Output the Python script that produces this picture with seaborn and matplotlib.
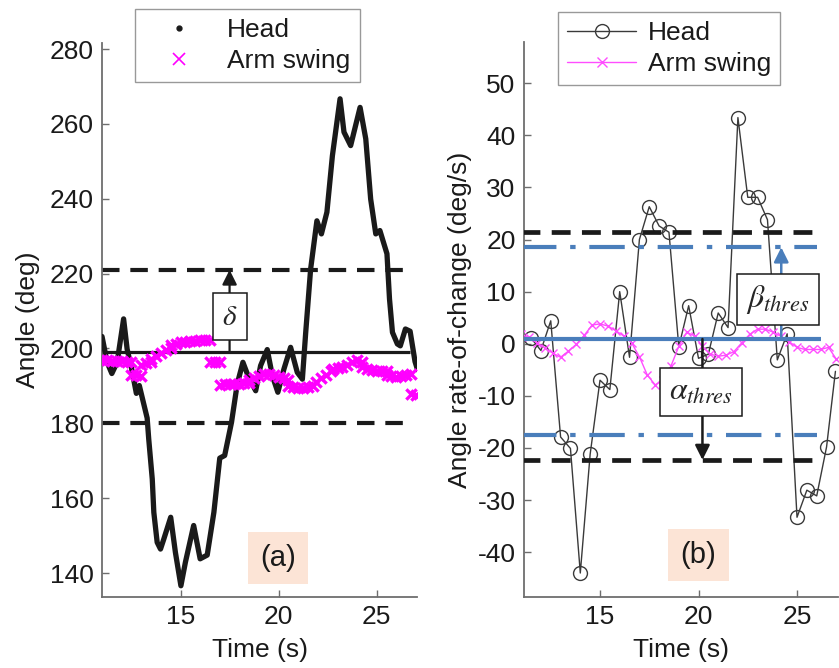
import matplotlib
matplotlib.use("Agg")
import matplotlib.pyplot as plt
import seaborn as sns
import pandas as pd
from matplotlib.lines import Line2D

# ---------------- data: panel (a) ----------------
head_time = [11.0, 11.26, 11.5, 11.77, 12.1, 12.28, 12.5, 12.75, 12.9, 13.3, 13.38, 13.56, 13.64,
             13.81, 13.98, 14.15, 14.5, 14.74, 15.02, 15.25, 15.67, 16.0, 16.36, 16.7, 17.0,
             17.25, 17.6, 17.89, 18.18, 18.44, 18.83, 19.08, 19.42, 19.68, 19.96, 20.27, 20.61,
             20.95, 21.21, 21.38, 21.63, 21.95, 22.18, 22.46, 22.74, 23.13, 23.33, 23.67, 24.15,
             24.44, 24.69, 24.95, 25.16, 25.52, 25.65, 25.8, 26.05, 26.2, 26.46, 26.7, 26.95, 27.08]
head_angle = [203.2, 196.3, 193.3, 196.3, 207.9, 199.8, 194.8, 188.0, 190.1, 181.4, 175.8, 165.1,
              156.2, 148.2, 146.4, 149.1, 154.9, 145.5, 136.6, 142.9, 152.7, 143.8, 144.8, 156.2,
              170.7, 171.4, 180.3, 190.5, 196.3, 192.7, 188.7, 195.4, 199.7, 192.7, 188.3, 194.5,
              200.3, 193.6, 191.8, 204.3, 221.2, 234.1, 230.6, 236.4, 251.5, 266.7, 257.8, 254.2,
              264.4, 256.0, 239.9, 230.6, 231.5, 225.3, 213.2, 204.3, 201.2, 200.7, 205.2, 204.6,
              196.5, 194.3]

arm_time = [11.0, 11.25, 11.5, 11.75, 12.0, 12.25, 12.5,
            12.5, 12.75, 13.0,
            13.0, 13.25, 13.5,
            13.5, 13.75, 14.0, 14.25, 14.5,
            14.5, 14.75, 15.0, 15.25, 15.5, 15.75, 16.0, 16.25, 16.5,
            16.5, 16.75, 17.0,
            17.0, 17.25, 17.5, 17.75, 18.0, 18.25, 18.5,
            18.5, 18.75, 19.0, 19.25, 19.5, 19.75, 20.0, 20.25, 20.5,
            20.5, 20.75, 21.0, 21.25, 21.5, 21.75,
            21.9, 22.15, 22.4, 22.65,
            22.75, 23.0, 23.25, 23.5, 23.75, 24.0, 24.25,
            24.25, 24.5, 24.75, 25.0, 25.25, 25.5,
            25.5, 25.75, 26.0, 26.25, 26.5, 26.75,
            26.75, 27.0]
arm_angle = [196.8, 196.8, 196.7, 196.6, 196.6, 196.5, 196.4,
             193.0, 192.8, 192.6,
             195.5, 196.0, 196.5,
             197.3, 198.0, 198.8, 199.5, 200.0,
             200.8, 201.3, 201.6, 201.8, 202.0, 202.1, 202.2, 202.3, 202.3,
             196.3, 196.3, 196.3,
             190.3, 190.4, 190.5, 190.6, 190.6, 190.7, 190.8,
             191.5, 192.0, 192.7, 193.2, 193.3, 193.0, 192.5, 192.0, 191.6,
             190.0, 189.7, 189.5, 189.4, 189.6, 190.0,
             191.0, 192.0, 193.0, 194.0,
             194.5, 194.8, 195.0, 195.5, 196.3, 196.8, 196.5,
             195.0, 194.5, 194.2, 194.0, 194.0, 194.0,
             193.0, 192.6, 192.4, 192.7, 193.0, 193.2,
             187.8, 187.6]

mean_left = 199.0
upper_left = 221.0
lower_left = 180.0

# ---------------- data: panel (b) ----------------
rate_time = [11.5, 12.0, 12.5, 13.0, 13.5, 14.0, 14.5, 15.0, 15.5, 16.0, 16.5, 17.0, 17.5, 18.0,
             18.5, 19.0, 19.5, 20.0, 20.5, 21.0, 21.5, 22.0, 22.5, 23.0, 23.5, 24.0, 24.5, 25.0,
             25.5, 26.0, 26.5, 26.95]
head_rate = [1.1, -1.3, 4.4, -17.9, -20.1, -44.0, -21.2, -7.0, -8.8, 10.0, -2.6, 20.0, 26.3, 22.6,
             21.4, -0.6, 7.3, -2.8, -2.0, 5.9, 3.1, 43.4, 28.1, 28.1, 23.8, -3.1, 1.9, -33.3,
             -28.1, -29.2, -19.8, -5.3]

arm_rate_time = [11.0, 11.4, 11.8, 12.2, 12.6, 13.0, 13.4, 13.8, 14.2, 14.6, 15.0, 15.4, 15.8,
                 16.2, 16.6, 17.0, 17.4, 17.8, 18.2, 18.6, 19.0, 19.4, 19.8, 20.2, 20.6, 21.0,
                 21.4, 21.8, 22.2, 22.6, 23.0, 23.4, 23.8, 24.2, 24.6, 25.0, 25.4, 25.8, 26.2,
                 26.6, 27.0]
arm_rate = [1.8, 1.2, 0.2, -0.8, -1.8, -2.6, -1.4, -0.1, 1.6, 3.6, 3.8, 3.4, 2.5, 1.5, 0.2, -2.5,
            -6.0, -7.9, -7.0, -4.3, -0.5, 2.2, 1.5, -0.5, -2.0, -2.4, -2.2, -1.5, 0.2, 1.8, 2.8,
            2.8, 2.2, 1.4, 0.4, -0.7, -1.1, -1.1, -1.1, -0.7, -3.0]

mean_right = 0.9
beta_upper = 18.5
beta_lower = -17.6
alpha_upper = 21.5
alpha_lower = -22.3

# ---------------- style ----------------
sns.set_theme(style="white")
plt.rcParams["font.family"] = ["Liberation Sans", "DejaVu Sans"]
plt.rcParams["axes.unicode_minus"] = False

FS = 19
SPINE = "#6e6e6e"
BLUE = "#4a7ebb"
MAG = "#ff00ff"
PEACH = "#fce4d6"
TXT = "#1a1a1a"

fig = plt.figure(figsize=(8.39, 6.68), dpi=100)
ax1 = fig.add_axes([0.1216, 0.1063, 0.3754, 0.8293])
ax2 = fig.add_axes([0.6245, 0.1063, 0.3743, 0.8308])

# ---------- panel (a) ----------
df_head = pd.DataFrame({"t": head_time, "v": head_angle})
df_arm = pd.DataFrame({"t": arm_time, "v": arm_angle})

ax1.hlines([upper_left, lower_left], 11.0, 26.7, colors="k", lw=3.0,
           linestyles=(0, (4.2, 2.6)), zorder=2)
ax1.hlines([mean_left], 11.0, 26.7, colors="k", lw=2.3, zorder=2)
sns.lineplot(data=df_head, x="t", y="v", ax=ax1, color="k", lw=3.8,
             solid_joinstyle="round", solid_capstyle="round", zorder=3)
sns.scatterplot(data=df_arm, x="t", y="v", ax=ax1, marker="x", color=MAG,
                s=55, linewidth=2.4, zorder=4)

ax1.annotate("", xy=(17.5, upper_left), xytext=(17.5, mean_left),
             arrowprops=dict(arrowstyle="-|>", color="k", lw=1.6,
                             mutation_scale=22, shrinkA=0, shrinkB=0), zorder=5)
ax1.text(17.5, 208.5, r"$\delta$", fontsize=21, ha="center", va="center",
         math_fontfamily="stix", zorder=6,
         bbox=dict(boxstyle="square,pad=0.32", fc="white", ec="k", lw=1.1))
ax1.text(19.95, 144.0, "(a)", fontsize=21, ha="center", va="center", zorder=6, color=TXT,
         bbox=dict(boxstyle="square,pad=0.42", fc=PEACH, ec="none"))

ax1.set_xlim(11.0, 27.05)
ax1.set_ylim(133.6, 281.6)
ax1.set_xticks([15, 20, 25])
ax1.set_yticks(list(range(140, 281, 20)))
ax1.set_xlabel("Time (s)", fontsize=FS, labelpad=6)
ax1.set_ylabel("Angle (deg)", fontsize=FS, labelpad=7)

leg1 = ax1.legend(handles=[Line2D([], [], ls="none", marker=".", color="k", markersize=7),
                           Line2D([], [], ls="none", marker="x", color=MAG, markersize=8,
                                  markeredgewidth=1.2)],
                  labels=["Head", "Arm swing"], loc="upper left", borderaxespad=0,
                  bbox_to_anchor=(135 / 839, 1 - 9 / 668), bbox_transform=fig.transFigure,
                  frameon=True, fancybox=False, fontsize=FS, handlelength=2.6,
                  handletextpad=0.55, borderpad=0.35, labelspacing=0.25)

# ---------- panel (b) ----------
df_rate = pd.DataFrame({"t": rate_time, "v": head_rate})
df_arm_rate = pd.DataFrame({"t": arm_rate_time, "v": arm_rate})

sns.lineplot(data=df_rate, x="t", y="v", ax=ax2, color="#3a3a3a", lw=1.0, marker="o",
             markersize=10, markerfacecolor="none", markeredgecolor="#3a3a3a",
             markeredgewidth=1.0, zorder=3)
sns.lineplot(data=df_arm_rate, x="t", y="v", ax=ax2, color="#ff4dff", lw=1.0, marker="x",
             markersize=6, markeredgecolor="#ff4dff", markeredgewidth=1.0, zorder=3)

ax2.hlines([alpha_upper, alpha_lower], 11.0, 26.1, colors="k", lw=3.4,
           linestyles=(0, (4.0, 2.4)), zorder=4)
ax2.hlines([beta_upper, beta_lower], 11.0, 26.0, colors=BLUE, lw=3.0,
           linestyles=(0, (8.5, 3.3, 1.3, 3.3)), zorder=4)
ax2.hlines([mean_right], 11.0, 26.2, colors=BLUE, lw=3.0, zorder=4)

ax2.annotate("", xy=(20.2, alpha_lower), xytext=(20.2, mean_right),
             arrowprops=dict(arrowstyle="-|>", color="k", lw=1.8,
                             mutation_scale=22, shrinkA=0, shrinkB=0), zorder=5)
ax2.text(20.13, -9.25, r"$\alpha_{thres}$", fontsize=23, ha="center", va="center",
         math_fontfamily="stix", zorder=6,
         bbox=dict(boxstyle="square,pad=0.28", fc="white", ec="k", lw=1.1))
ax2.annotate("", xy=(24.2, beta_upper), xytext=(24.2, mean_right),
             arrowprops=dict(arrowstyle="-|>", color=BLUE, lw=1.8,
                             mutation_scale=22, shrinkA=0, shrinkB=0), zorder=5)
ax2.text(24.03, 8.5, r"$\beta_{thres}$", fontsize=23, ha="center", va="center",
         math_fontfamily="stix", zorder=6,
         bbox=dict(boxstyle="square,pad=0.28", fc="white", ec="k", lw=1.1))
ax2.text(20.0, -40.5, "(b)", fontsize=21, ha="center", va="center", zorder=6, color=TXT,
         bbox=dict(boxstyle="square,pad=0.42", fc=PEACH, ec="none"))

ax2.set_xlim(11.14, 27.08)
ax2.set_ylim(-48.6, 57.9)
ax2.set_xticks([15, 20, 25])
ax2.set_yticks(list(range(-40, 51, 10)))
ax2.set_xlabel("Time (s)", fontsize=FS, labelpad=6)
ax2.set_ylabel("Angle rate-of-change (deg/s)", fontsize=FS, labelpad=4)

leg2 = ax2.legend(handles=[Line2D([], [], color="#3a3a3a", lw=1.0, marker="o", markersize=10,
                                  markerfacecolor="none", markeredgewidth=1.0),
                           Line2D([], [], color="#ff4dff", lw=1.0, marker="x", markersize=7)],
                  labels=["Head", "Arm swing"], loc="upper left", borderaxespad=0,
                  bbox_to_anchor=(558 / 839, 1 - 12 / 668), bbox_transform=fig.transFigure,
                  frameon=True, fancybox=False, fontsize=FS, handlelength=2.6,
                  handletextpad=0.45, borderpad=0.35, labelspacing=0.25)

for leg in (leg1, leg2):
    leg.get_frame().set_edgecolor("#808080")
    leg.get_frame().set_linewidth(1.0)
    leg.set_zorder(10)
    for t in leg.get_texts():
        t.set_color(TXT)

for ax in (ax1, ax2):
    sns.despine(ax=ax)
    for side in ("left", "bottom"):
        ax.spines[side].set_color(SPINE)
        ax.spines[side].set_linewidth(1.3)
    ax.tick_params(axis="both", which="both", direction="in", length=5, width=1.0,
                   color=SPINE, labelsize=FS, labelcolor=TXT, pad=6,
                   bottom=True, left=True)
    ax.set_facecolor("white")
    ax.xaxis.label.set_color(TXT)
    ax.yaxis.label.set_color(TXT)

fig.savefig("out.png", dpi=100)
